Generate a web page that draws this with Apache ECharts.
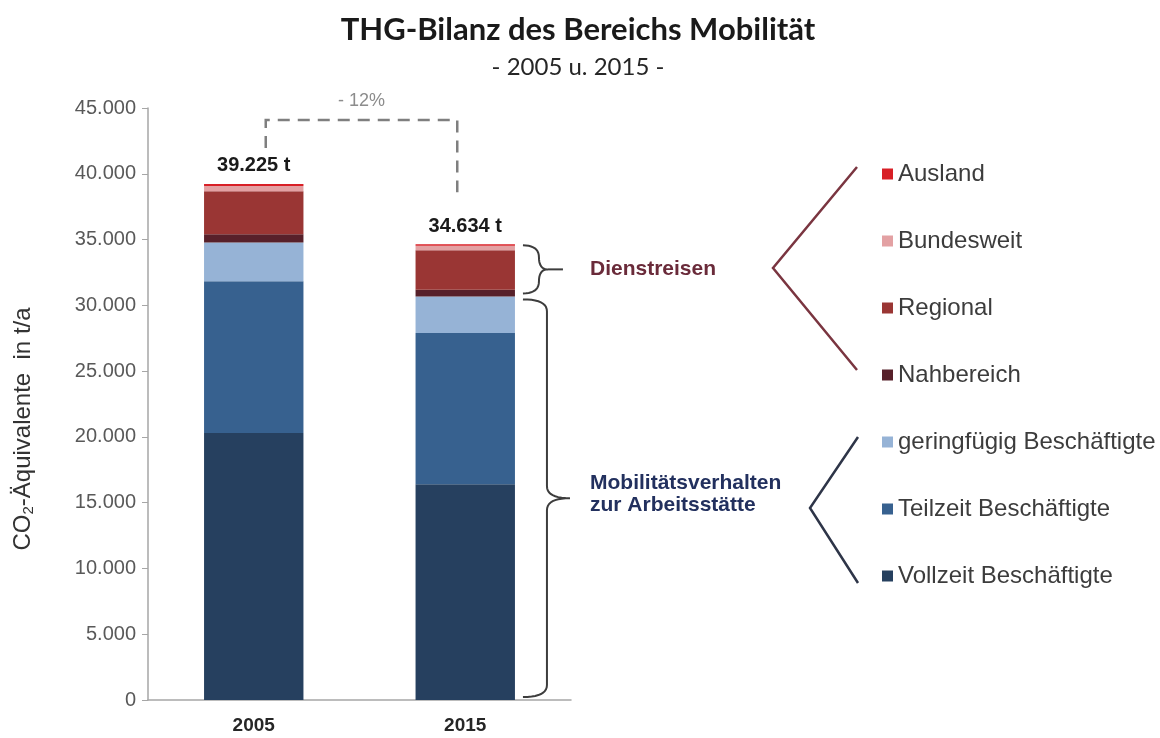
<!DOCTYPE html>
<html>
<head>
<meta charset="utf-8">
<script src="https://cdn.jsdelivr.net/npm/echarts@6/dist/echarts.min.js"></script>
<style>
  html, body { margin: 0; padding: 0; background: #fff; }
  #chart { width: 1160px; height: 738px; }
</style>
</head>
<body>
<div id="chart"></div>
<script>
// Kategorien
const years = ['2005', '2015']

// Werte in t CO2-Äquivalente (von unten nach oben gestapelt)
const vollzeit = [20300, 16400]
const teilzeit = [11530, 11490]
const geringfuegig = [2950, 2790]
const nahbereich = [620, 510]
const regional = [3280, 2990]
const bundesweit = [395, 354]
const ausland = [150, 100]

// Achse
const yMax = 45000
const yStep = 5000

const seriesDefs = [
  { name: 'Vollzeit Beschäftigte', data: vollzeit, color: '#26405f' },
  { name: 'Teilzeit Beschäftigte', data: teilzeit, color: '#37618f' },
  { name: 'geringfügig Beschäftigte', data: geringfuegig, color: '#96b3d6' },
  { name: 'Nahbereich', data: nahbereich, color: '#57202a' },
  { name: 'Regional', data: regional, color: '#9a3634' },
  { name: 'Bundesweit', data: bundesweit, color: '#e3a1a3' },
  { name: 'Ausland', data: ausland, color: '#d81f26' },
]

const totals = years.map((y, i) => seriesDefs.reduce((s, d) => s + d.data[i], 0))
const mobil = years.map((y, i) => vollzeit[i] + teilzeit[i] + geringfuegig[i])

// Tausenderpunkt
function fmt(v) {
  return String(v).replace(/\B(?=(\d{3})+(?!\d))/g, '.')
}

const chart = echarts.init(document.getElementById('chart'))

const series = seriesDefs.map((d, k) => {
  const s = {
    name: d.name,
    type: 'bar',
    stack: 'total',
    barWidth: '47%',
    data: d.data,
    itemStyle: { color: d.color },
  }
  if (k === seriesDefs.length - 1) {
    s.label = {
      show: true,
      position: 'top',
      distance: 8,
      formatter: p => fmt(totals[p.dataIndex]) + ' t',
      fontFamily: 'Liberation Sans',
      fontWeight: 'bold',
      fontSize: 20,
      color: '#1a1a1a',
    }
  }
  return s
})

chart.setOption({
  animation: false,
  title: {
    text: 'THG-Bilanz des Bereichs Mobilität',
    subtext: '- 2005 u. 2015 -',
    left: 573,
    textAlign: 'center',
    top: 9,
    itemGap: 10,
    textStyle: {
      fontFamily: 'Lato',
      fontWeight: 'bold',
      fontSize: 31,
      color: '#1a1a1a',
    },
    subtextStyle: {
      fontFamily: 'Lato',
      fontSize: 24,
      color: '#262626',
    },
  },
  legend: {
    orient: 'vertical',
    left: 877,
    top: 157,
    itemWidth: 11,
    itemHeight: 11,
    itemGap: 43,
    icon: 'rect',
    selectedMode: false,
    data: seriesDefs.map(d => d.name).reverse(),
    textStyle: {
      fontFamily: 'Liberation Sans',
      fontSize: 24,
      lineHeight: 24,
      color: '#3c3c3c',
    },
  },
  grid: {
    left: 148,
    right: 589,
    top: 108,
    bottom: 38,
  },
  xAxis: {
    type: 'category',
    data: years,
    axisLine: { lineStyle: { color: '#a6a6a6', width: 1.5 } },
    axisTick: { length: 4, lineStyle: { color: '#a6a6a6' } },
    axisLabel: {
      margin: 16,
      fontFamily: 'Liberation Sans',
      fontWeight: 'bold',
      fontSize: 19,
      color: '#262626',
    },
  },
  yAxis: {
    type: 'value',
    min: 0,
    max: yMax,
    interval: yStep,
    name: '{a|CO}{s|2}{a|-Äquivalente  in t/a}',
    nameLocation: 'middle',
    nameRotate: 90,
    nameGap: 112,
    nameTextStyle: {
      padding: [0, 50, 0, 0],
      rich: {
        a: { fontFamily: 'Liberation Sans', fontSize: 24, color: '#333' },
        s: { fontFamily: 'Liberation Sans', fontSize: 15, color: '#333', verticalAlign: 'bottom', padding: [10, 0, 0, 0] },
      },
    },
    axisLine: { show: true, lineStyle: { color: '#a6a6a6', width: 1.5 } },
    axisTick: { show: true, length: 6, lineStyle: { color: '#a6a6a6' } },
    splitLine: { show: false },
    axisLabel: {
      margin: 12,
      fontFamily: 'Liberation Sans',
      fontSize: 20,
      color: '#595959',
      formatter: v => fmt(v),
    },
  },
  series: series,
})

// Anmerkungen (Klammern, Pfeile) an den Achsen ausrichten
const px = (i, v) => chart.convertToPixel({ gridIndex: 0 }, [years[i], v])
const c0 = px(0, 0)[0]
const c1 = px(1, 0)[0]
const halfBar = (c1 - c0) * 0.47 / 2
const barRight = c1 + halfBar

const x1 = c0 + 12
const x2 = c1 - 8
const yA = px(0, totals[0])[1] - 36
const yTop = yA - 28
const yB = px(1, totals[1])[1] - 52
const diff = Math.round((totals[1] - totals[0]) / totals[0] * 100)

// quadratische Kurve als Punkte
function quad(p0, c, p1, out) {
  for (let t = 0; t <= 1.0001; t += 0.1) {
    const u = 1 - t
    out.push([
      u * u * p0[0] + 2 * u * t * c[0] + t * t * p1[0],
      u * u * p0[1] + 2 * u * t * c[1] + t * t * p1[1],
    ])
  }
}

// geschweifte Klammer "}"
function brace(x0, top, bottom, w, tip) {
  const xs = x0 + w
  const mid = (top + bottom) / 2
  const r = Math.min(12, (bottom - top) / 4)
  const pts = []
  quad([x0, top], [xs, top], [xs, top + r], pts)
  quad([xs, mid - r], [xs, mid], [xs + tip, mid], pts)
  quad([xs + tip, mid], [xs, mid], [xs, mid + r], pts)
  quad([xs, bottom - r], [xs, bottom], [x0, bottom], pts)
  return pts
}

const dTop = px(1, totals[1])[1] + 1
const dBot = px(1, mobil[1])[1] - 3
const dMid = (dTop + dBot) / 2
const mTop = px(1, mobil[1])[1] + 3
const mBot = px(1, 0)[1] - 3
const mMid = (mTop + mBot) / 2

const braceX = barRight + 8
const labelX = 590

chart.setOption({
  graphic: [
    {
      type: 'polyline',
      shape: { points: [[x1, yA], [x1, yTop], [x2, yTop], [x2, yB]] },
      style: { stroke: '#7f7f7f', lineWidth: 2.5, lineDash: [12, 8], fill: null },
    },
    {
      type: 'text',
      x: (x1 + x2) / 2,
      y: yTop - 19,
      style: {
        text: '- ' + Math.abs(diff) + '%',
        fill: '#8c8c8c',
        font: '18px "Liberation Sans"',
        align: 'center',
        verticalAlign: 'middle',
      },
    },
    {
      type: 'polyline',
      shape: { points: brace(braceX, dTop, dBot, 16, 9) },
      style: { stroke: '#3d3d3d', lineWidth: 2, fill: null },
    },
    {
      type: 'line',
      shape: { x1: braceX + 25, y1: dMid, x2: braceX + 40, y2: dMid },
      style: { stroke: '#3d3d3d', lineWidth: 2 },
    },
    {
      type: 'polyline',
      shape: { points: brace(braceX, mTop, mBot, 24, 23) },
      style: { stroke: '#3d3d3d', lineWidth: 2, fill: null },
    },
    {
      type: 'text',
      x: labelX,
      y: dMid,
      style: {
        text: 'Dienstreisen',
        fill: '#6a2b3a',
        font: 'bold 21px "Liberation Sans"',
        verticalAlign: 'middle',
      },
    },
    {
      type: 'text',
      x: labelX,
      y: mMid - 4,
      style: {
        text: 'Mobilitätsverhalten\nzur Arbeitsstätte',
        fill: '#22305e',
        font: 'bold 21px "Liberation Sans"',
        lineHeight: 22,
        verticalAlign: 'middle',
      },
    },
    {
      type: 'polyline',
      shape: { points: [[857, 167], [773, 268], [857, 370]] },
      style: { stroke: '#7a3540', lineWidth: 2.5, fill: null },
    },
    {
      type: 'polyline',
      shape: { points: [[858, 437], [810, 508], [858, 583]] },
      style: { stroke: '#2e3548', lineWidth: 2.5, fill: null },
    },
  ],
})
</script>
</body>
</html>
